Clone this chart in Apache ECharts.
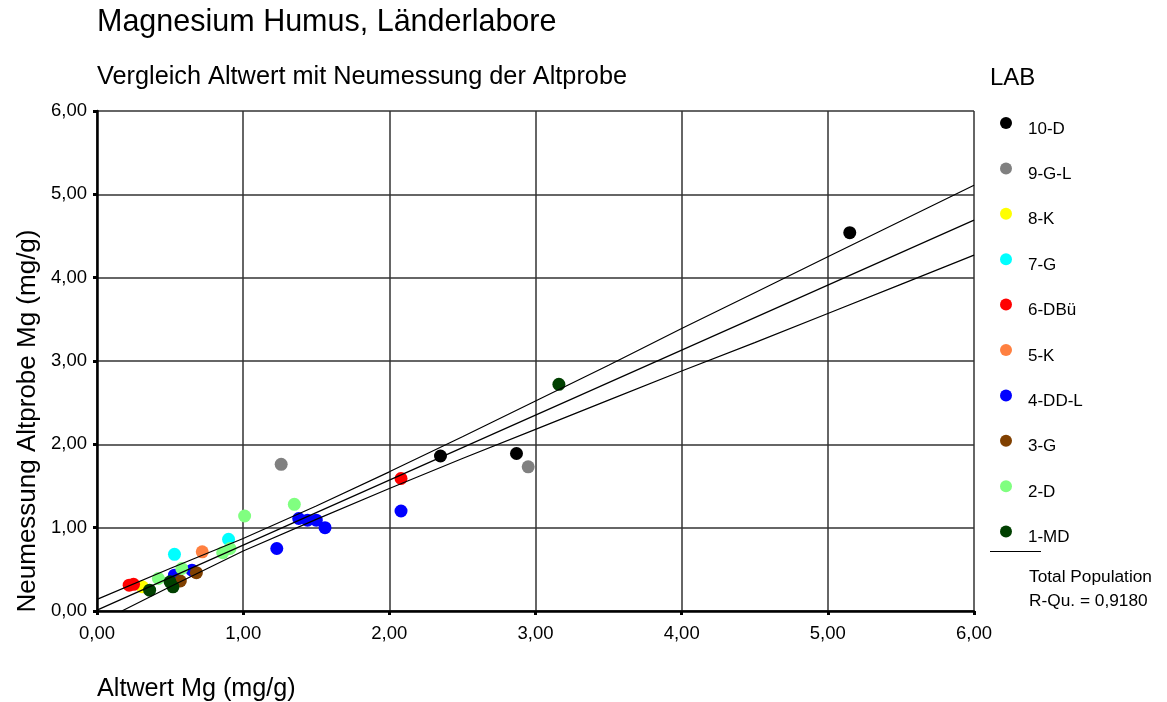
<!DOCTYPE html>
<html>
<head>
<meta charset="utf-8">
<script src="https://cdn.jsdelivr.net/npm/echarts@6/dist/echarts.min.js"></script>
<style>
  html, body { margin: 0; padding: 0; background: #fff; }
  #chart { width: 1167px; height: 702px; }
</style>
</head>
<body>
<div id="chart"></div>
<script>
// Laboratory names and marker colours (legend order)
const labs = ['10-D', '9-G-L', '8-K', '7-G', '6-DBü', '5-K', '4-DD-L', '3-G', '2-D', '1-MD'];
const labColors = ['#000000', '#808080', '#ffff00', '#00ffff', '#ff0000', '#ff8040', '#0000ff', '#804000', '#80ff80', '#004000'];

// [Altwert, Neumessung] per laboratory, mg/g
const lab10D  = [[2.35, 1.86], [2.87, 1.89], [5.15, 4.54]];
const lab9GL  = [[1.26, 1.76], [2.95, 1.73]];
const lab8K   = [[0.31, 0.29]];
const lab7G   = [[0.53, 0.68], [0.90, 0.86]];
const lab6DBu = [[0.22, 0.31], [0.25, 0.32], [2.08, 1.59]];
const lab5K   = [[0.72, 0.71]];
const lab4DDL = [[0.53, 0.43], [0.65, 0.49], [1.23, 0.75], [1.38, 1.11], [1.44, 1.09], [1.50, 1.09], [1.56, 1.00], [2.08, 1.20]];
const lab3G   = [[0.57, 0.36], [0.68, 0.46]];
const lab2D   = [[0.42, 0.39], [0.58, 0.51], [0.86, 0.70], [0.91, 0.75], [1.01, 1.14], [1.35, 1.28]];
const lab1MD  = [[0.36, 0.25], [0.50, 0.35], [0.52, 0.29], [3.16, 2.72]];
const labData = [lab10D, lab9GL, lab8K, lab7G, lab6DBu, lab5K, lab4DDL, lab3G, lab2D, lab1MD];

// Total population fit line and its confidence band
const fitLine   = [[0, 0.01], [6, 4.69]];
const upperBand = [[0, 0.14], [0.5, 0.51], [1, 0.87], [1.5, 1.26], [2, 1.67], [2.5, 2.09], [3, 2.52], [3.5, 2.95], [4, 3.39], [4.5, 3.82], [5, 4.25], [5.5, 4.68], [6, 5.11]];
const lowerBand = [[0.17, 0], [0.5, 0.29], [1, 0.72], [1.5, 1.10], [2, 1.47], [2.5, 1.83], [3, 2.18], [3.5, 2.53], [4, 2.88], [4.5, 3.22], [5, 3.57], [5.5, 3.92], [6, 4.27]];

// Axis tick labels (0..6 step 1)
const tickLabels = ['0,00', '1,00', '2,00', '3,00', '4,00', '5,00', '6,00'];

const FONT = '"Liberation Sans", Arial, sans-serif';

const chart = echarts.init(document.getElementById('chart'), null, { renderer: 'canvas' });

const scatterSeries = labs.map((name, i) => ({
  name: name,
  type: 'scatter',
  data: labData[i],
  symbol: 'circle',
  symbolSize: 13,
  itemStyle: { color: labColors[i], opacity: 1 },
  emphasis: { disabled: true },
  z: 2
}));

const lineStyle = { color: '#000', width: 1.2 };
const lineSeries = [fitLine, upperBand, lowerBand].map(d => ({
  type: 'line',
  data: d,
  symbol: 'none',
  lineStyle: lineStyle,
  silent: true,
  z: 3
}));

const axisCommon = {
  type: 'value',
  min: 0,
  max: 6,
  interval: 1,
  axisLine: { show: true, onZero: false, lineStyle: { color: '#000', width: 2.5 } },
  axisTick: { show: true, length: 4, lineStyle: { color: '#000', width: 3 } },
  splitLine: { show: true, lineStyle: { color: '#333', width: 1.5 } },
  axisLabel: {
    color: '#000',
    fontSize: 18.5,
    fontFamily: FONT,
    formatter: v => tickLabels[Math.round(v)]
  }
};

chart.setOption({
  animation: false,
  backgroundColor: '#fff',
  textStyle: { fontFamily: FONT },
  grid: { left: 97, right: 193, top: 111, bottom: 91, containLabel: false },
  xAxis: Object.assign({}, axisCommon, {
    axisLabel: Object.assign({}, axisCommon.axisLabel, { margin: 13 })
  }),
  yAxis: Object.assign({}, axisCommon, {
    axisLabel: Object.assign({}, axisCommon.axisLabel, { margin: 10 })
  }),
  legend: {
    orient: 'vertical',
    left: 995,
    top: 112,
    data: labs,
    icon: 'circle',
    itemWidth: 34,
    itemHeight: 12,
    itemGap: 24.9,
    selectedMode: false,
    formatter: name => '{a|' + name + '}',
    textStyle: {
      color: '#000', fontSize: 17, fontFamily: FONT,
      rich: { a: { color: '#000', fontSize: 17, fontFamily: FONT, padding: [12, 0, 0, 0] } }
    }
  },
  graphic: [
    { type: 'text', x: 97, y: 23, style: { text: 'Magnesium Humus, Länderlabore', fontSize: 30.5, fontFamily: FONT, fill: '#000', textVerticalAlign: 'middle', verticalAlign: 'middle' } },
    { type: 'text', x: 97, y: 77, style: { text: 'Vergleich Altwert mit Neumessung der Altprobe', fontSize: 25.3, fontFamily: FONT, fill: '#000', textVerticalAlign: 'middle', verticalAlign: 'middle' } },
    { type: 'text', x: 28, y: 421, rotation: Math.PI / 2, style: { text: 'Neumessung Altprobe Mg (mg/g)', fontSize: 26, fontFamily: FONT, fill: '#000', textAlign: 'center', align: 'center', textVerticalAlign: 'middle', verticalAlign: 'middle' } },
    { type: 'text', x: 97, y: 689, style: { text: 'Altwert Mg (mg/g)', fontSize: 25.2, fontFamily: FONT, fill: '#000', textVerticalAlign: 'middle', verticalAlign: 'middle' } },
    { type: 'text', x: 990, y: 78, style: { text: 'LAB', fontSize: 24, fontFamily: FONT, fill: '#000', textVerticalAlign: 'middle', verticalAlign: 'middle' } },
    { type: 'line', shape: { x1: 990, y1: 551.5, x2: 1041, y2: 551.5 }, style: { stroke: '#000', lineWidth: 1 } },
    { type: 'text', x: 1029, y: 577, style: { text: 'Total Population', fontSize: 17.3, fontFamily: FONT, fill: '#000', textVerticalAlign: 'middle', verticalAlign: 'middle' } },
    { type: 'text', x: 1029, y: 601, style: { text: 'R-Qu. = 0,9180', fontSize: 17.3, fontFamily: FONT, fill: '#000', textVerticalAlign: 'middle', verticalAlign: 'middle' } }
  ],
  series: scatterSeries.concat(lineSeries)
});
</script>
</body>
</html>
